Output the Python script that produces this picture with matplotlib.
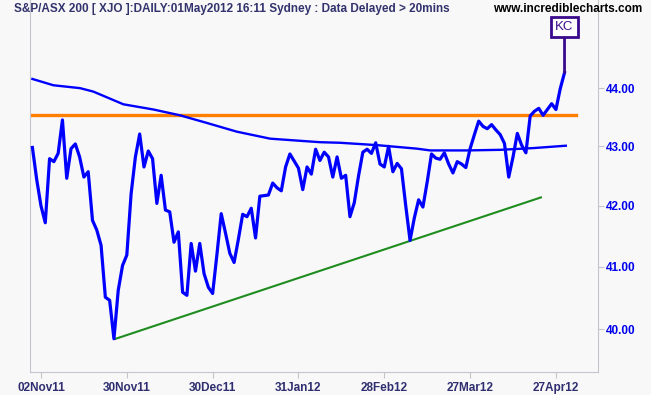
import numpy as np
import matplotlib
matplotlib.use("Agg")
import matplotlib.pyplot as plt
from matplotlib.ticker import FixedLocator, FixedFormatter, NullLocator

# trading-day index (0 = 02Nov11), daily close
start_day = -2
close = [
    42.98, 42.44, 42.00, 41.72, 42.79, 42.74, 42.88, 43.45, 42.46, 42.96,
    43.04, 42.82, 42.48, 42.57, 41.76, 41.60, 41.35, 40.51, 40.46, 39.85,
    40.62, 41.02, 41.19, 42.20, 42.82, 43.21, 42.65, 42.92, 42.79, 42.04,
    42.51, 41.93, 41.90, 41.40, 41.57, 40.59, 40.54, 41.38, 40.93, 41.38,
    40.89, 40.67, 40.57, 41.20, 41.87, 41.55, 41.22, 41.07, 41.45, 41.86,
    41.82, 41.96, 41.47, 42.16, 42.17, 42.18, 42.38, 42.30, 42.25, 42.65,
    42.87, 42.75, 42.63, 42.27, 42.65, 42.53, 42.95, 42.76, 42.90, 42.82,
    42.48, 42.82, 42.46, 42.51, 41.82, 42.05, 42.50, 42.90, 42.95, 42.88,
    43.06, 42.70, 42.65, 43.00, 42.57, 42.71, 42.62, 42.00, 41.43, 41.80,
    42.10, 41.98, 42.40, 42.87, 42.80, 42.78, 42.89, 42.70, 42.55, 42.74,
    42.70, 42.64, 42.96, 43.20, 43.43, 43.34, 43.30, 43.37, 43.28, 43.20,
    43.05, 42.48, 42.82, 43.22, 43.02, 42.89, 43.52, 43.60, 43.65, 43.53,
    43.63, 43.73, 43.63, 43.99, 44.27,
]
days = np.arange(start_day, start_day + len(close))

# moving average (smooth line), read at a few days
ma_days = [-2, 2.9, 9.1, 12.2, 19.2, 26.2, 32.4, 38.6, 45.6, 53.4, 61.1, 65,
           69.7, 78.3, 87.6, 90.7, 99.2, 107, 114.8, 122.3]
ma_vals = [44.16, 44.05, 44.00, 43.94, 43.72, 43.63, 43.53, 43.40, 43.25,
           43.13, 43.09, 43.07, 43.06, 43.02, 42.96, 42.93, 42.93, 42.94,
           42.97, 43.01]

resistance = 43.53
res_days = [-2.6, 124.7]
trend_days = [17.4, 116.5]
trend_vals = [39.85, 42.14]

tick_days = [0, 20, 40, 60, 80, 100, 120]
tick_labels = ["02Nov11", "30Nov11", "30Dec11", "31Jan12", "28Feb12", "27Mar12", "27Apr12"]
y_ticks = [40, 41, 42, 43, 44]

bg = "#F8F8F8"
grey = "#C4C4CC"
plt.rcParams["font.family"] = ["Liberation Sans", "DejaVu Sans"]

fig = plt.figure(figsize=(6.51, 3.95), dpi=100, facecolor=bg)
ax = fig.add_axes([30 / 651, 23 / 395, 568 / 651, 372 / 395], facecolor=bg)

ax.plot(res_days, [resistance, resistance], color="#FF8000", lw=2.4, zorder=2)
ax.plot(trend_days, trend_vals, color="#1E8C1E", lw=1.5, zorder=2)
ax.plot(ma_days, ma_vals, color="#0000FF", lw=1.7, zorder=3)
ax.plot(days, close, color="#0000FF", lw=2.3, zorder=4, solid_joinstyle="round")

ax.annotate("KC", xy=(days[-1], close[-1]), xytext=(days[-1], 45.07),
            ha="center", va="center", fontsize=9.5, color="#3A0A8C",
            bbox=dict(boxstyle="square,pad=0.3", fc="white", ec="#3A0A8C", lw=2),
            arrowprops=dict(arrowstyle="-", color="#3A0A8C", lw=2, shrinkA=0, shrinkB=0),
            zorder=5)

ax.set_yscale("log")
ax.set_ylim(39.33, 45.56)
ax.set_xlim(-2.56, 129.8)
ax.yaxis.set_major_locator(FixedLocator(y_ticks))
ax.yaxis.set_major_formatter(FixedFormatter(["%.2f" % v for v in y_ticks]))
ax.yaxis.set_minor_locator(NullLocator())
ax.yaxis.tick_right()
ax.set_xticks(tick_days)
ax.set_xticklabels(tick_labels)

for s in ["left", "right", "bottom"]:
    ax.spines[s].set_color(grey)
ax.spines["top"].set_visible(False)
ax.tick_params(axis="y", colors=grey, labelcolor="#0000EE", length=4, pad=2, labelsize=8.5)
ax.tick_params(axis="x", colors=grey, labelcolor="#2E2E70", length=4, pad=3, labelsize=8.5)
for lab in ax.get_xticklabels() + ax.get_yticklabels():
    lab.set_fontweight("bold")

fig.text(14 / 651, 1 - 9 / 395, "S&P/ASX 200 [ XJO ]:DAILY:01May2012 16:11 Sydney : Data Delayed > 20mins",
         fontsize=8.5, fontweight="bold", color="#33336E", va="center", ha="left")
fig.text(642 / 651, 1 - 9 / 395, "www.incrediblecharts.com",
         fontsize=8.5, fontweight="bold", color="black", va="center", ha="right")

fig.savefig("out.png", dpi=100, facecolor=bg)
